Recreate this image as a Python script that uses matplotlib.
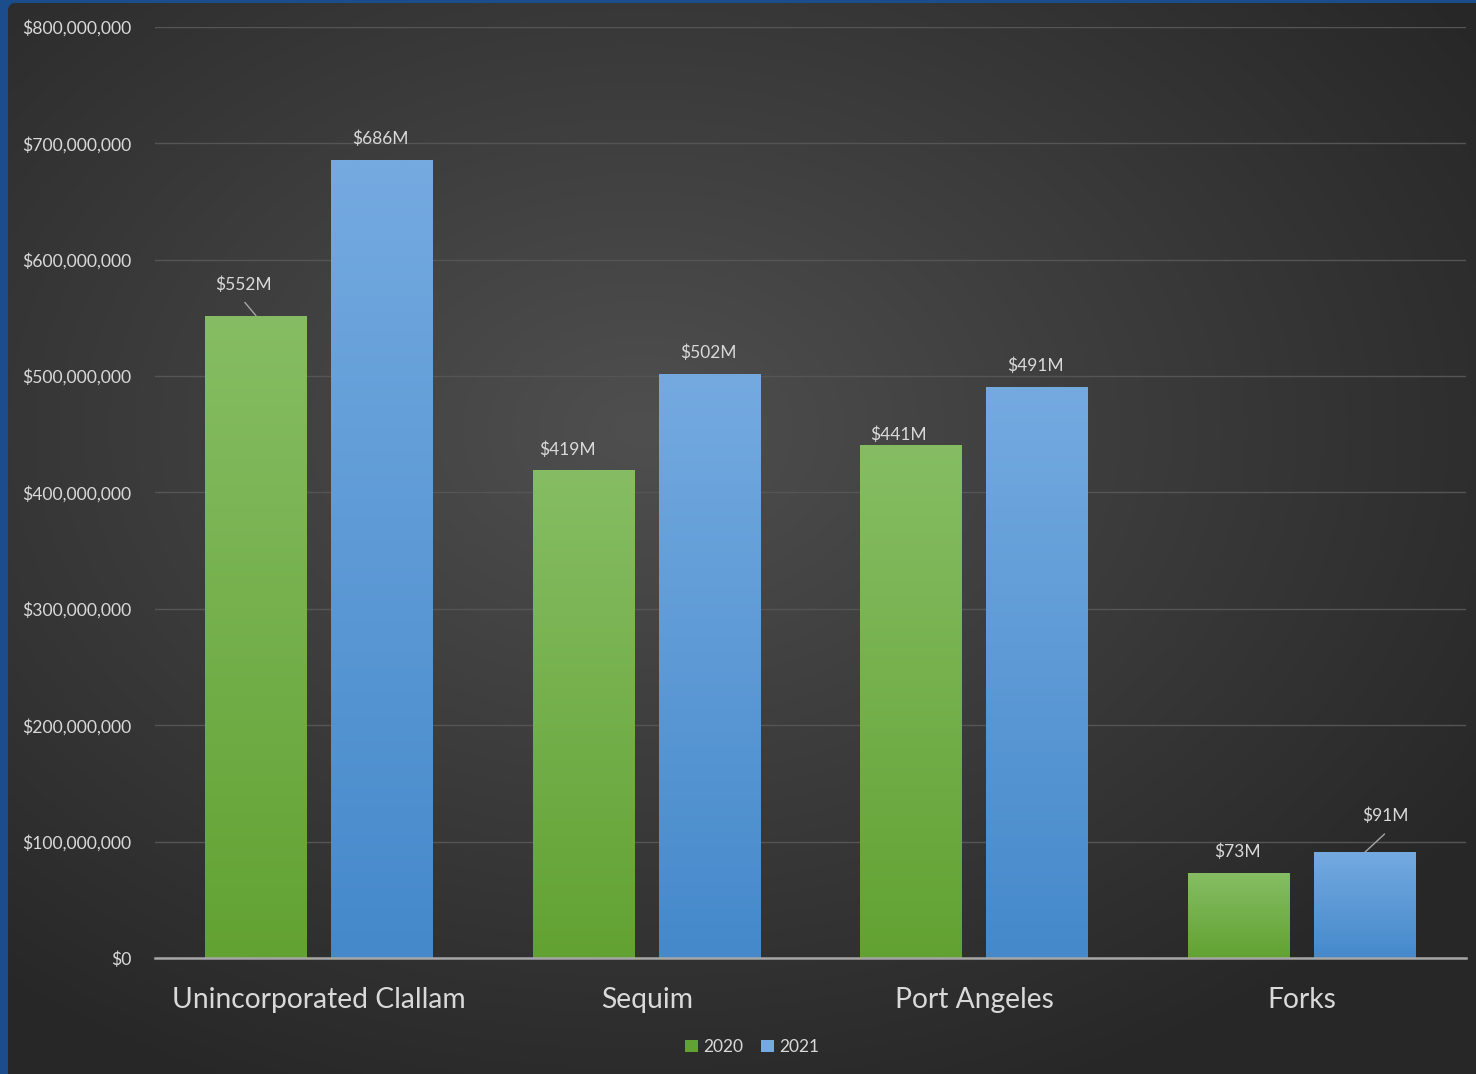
import numpy as np
import matplotlib
matplotlib.use("Agg")
import matplotlib.pyplot as plt
from matplotlib.patches import FancyBboxPatch, Patch
from matplotlib.ticker import FuncFormatter, MultipleLocator

plt.rcParams["font.family"] = ["Lato", "DejaVu Sans"]

# ── data ──────────────────────────────────────────────────────────────
categories = ["Unincorporated Clallam", "Sequim", "Port Angeles", "Forks"]
years = ["2020", "2021"]
values_2020 = [552e6, 419e6, 441e6, 73e6]
values_2021 = [686e6, 502e6, 491e6, 91e6]
labels_2020 = ["$552M", "$419M", "$441M", "$73M"]
labels_2021 = ["$686M", "$502M", "$491M", "$91M"]

# label centre offsets (points) from bar top centre; leader line start (points) or None
off_2020 = [(-9, 22.5), (-12, 14.5), (-9, 7.5), (-1, 15)]
off_2021 = [(-1, 15), (-1, 15), (-1, 15), (14.5, 26)]
lead_2020 = [(-8, 9.5), None, None, None]
lead_2021 = [None, None, None, (14, 13)]

GREEN = ("#86bd64", "#62a232")
BLUE = ("#74aae0", "#4589cb")
TXT = "#d9d9d9"

W, H = 1476, 1074
fig = plt.figure(figsize=(W / 100, H / 100), dpi=100)
fig.patch.set_facecolor("#1b4c8c")

# dark panel with radial gradient
bg = fig.add_axes([0, 0, 1, 1])
bg.set_xlim(0, W)
bg.set_ylim(0, H)
bg.axis("off")
yy, xx = np.mgrid[0:H, 0:W]
d = np.sqrt(((xx - 640) / 900.0) ** 2 + ((yy - (H - 430)) / 650.0) ** 2)
g = np.clip(0.31 - 0.14 * d, 0.155, 0.31)
img = bg.imshow(np.dstack([g, g, g]), extent=(0, W, 0, H), origin="lower",
                interpolation="bilinear", aspect="auto")
panel = FancyBboxPatch((8, -20), W + 20, H - 3 + 20,
                       boxstyle="round,pad=0,rounding_size=8",
                       transform=bg.transData, facecolor="none", edgecolor="none")
bg.add_patch(panel)
img.set_clip_path(panel)

# main axes
ax = fig.add_axes([155 / W, 1 - 958 / H, (1466 - 155) / W, (958 - 27) / H])
ax.set_facecolor("none")

x = np.arange(len(categories))
bw = 0.311
off = 0.192


def grad_bar(xc, h, cols):
    bar = ax.bar(xc, h, bw, color=cols[1], zorder=3)[0]
    c0 = np.array(matplotlib.colors.to_rgb(cols[0]))
    c1 = np.array(matplotlib.colors.to_rgb(cols[1]))
    t = np.linspace(0, 1, 256)[:, None]
    grad = (c1 * (1 - t) + c0 * t)[:, None, :]
    im = ax.imshow(grad, extent=(xc - bw / 2, xc + bw / 2, 0, h), origin="lower",
                   aspect="auto", zorder=4, interpolation="bilinear")
    im.set_clip_path(bar)
    return bar


for i in range(len(categories)):
    grad_bar(x[i] - off, values_2020[i], GREEN)
    grad_bar(x[i] + off, values_2021[i], BLUE)
    for xc, v, lab, o, lead in [
        (x[i] - off, values_2020[i], labels_2020[i], off_2020[i], lead_2020[i]),
        (x[i] + off, values_2021[i], labels_2021[i], off_2021[i], lead_2021[i]),
    ]:
        ax.annotate(lab, (xc, v), xytext=o, textcoords="offset points",
                    ha="center", va="center", fontsize=12.5, color=TXT, zorder=6)
        if lead is not None:
            ax.annotate("", (xc, v), xytext=lead, textcoords="offset points",
                        arrowprops=dict(arrowstyle="-", color="#a6a6a6", lw=1.0,
                                        shrinkA=0, shrinkB=0), zorder=6)

ax.set_aspect("auto")
ax.set_xlim(-0.5, 3.5)
ax.set_ylim(0, 800e6)

ax.yaxis.set_major_locator(MultipleLocator(100e6))
ax.yaxis.set_major_formatter(FuncFormatter(lambda v, p: f"${v:,.0f}"))
ax.grid(axis="y", color="#555555", linewidth=1.0, zorder=0)
ax.set_axisbelow(True)
for s in ["top", "right", "left"]:
    ax.spines[s].set_visible(False)
ax.spines["bottom"].set_color("#a6a6a6")
ax.spines["bottom"].set_linewidth(1.8)
ax.spines["bottom"].set_zorder(5)
ax.tick_params(axis="y", length=0, pad=17, labelsize=12.6, labelcolor=TXT)
ax.tick_params(axis="x", length=0, pad=21, labelsize=20.3, labelcolor=TXT)
ax.set_xticks(x)
ax.set_xticklabels(categories)

handles = [Patch(facecolor=GREEN[1], edgecolor="none"),
           Patch(facecolor=BLUE[0], edgecolor="none")]
fig.legend(handles, years, loc="center", bbox_to_anchor=(752 / W, 1 - 1047 / H),
           ncol=2, frameon=False, fontsize=12.5, labelcolor=TXT,
           handlelength=0.75, handleheight=0.75, handletextpad=0.3,
           columnspacing=1.0)

fig.savefig("out.png", dpi=100, facecolor=fig.get_facecolor())
